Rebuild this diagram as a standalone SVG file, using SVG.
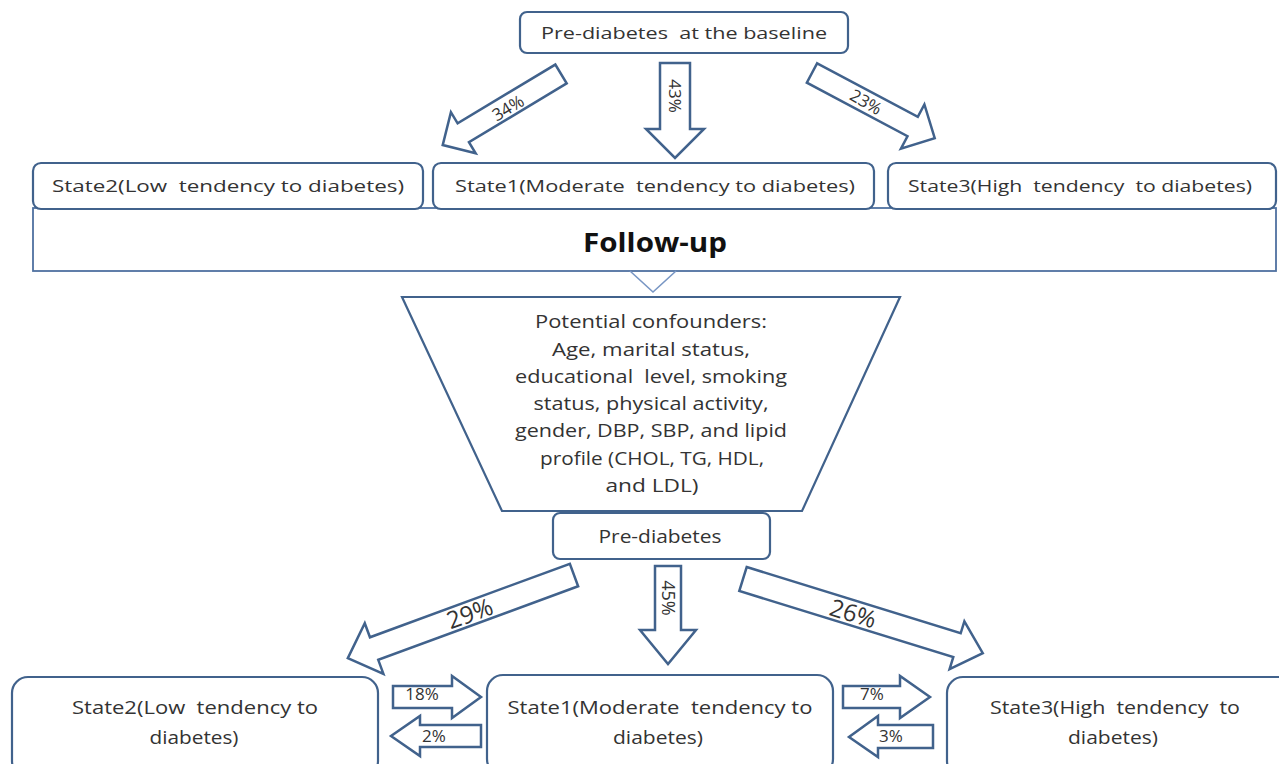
<svg xmlns="http://www.w3.org/2000/svg" width="1279" height="764" viewBox="0 0 1279 764">
<style>
.box{fill:#fff;stroke:#41628c;stroke-width:2.2}
.arr{fill:#fff;stroke:#41628c;stroke-width:2.5;stroke-linejoin:miter}
.t{font-family:"Open Sans","Liberation Sans",sans-serif;fill:#333;text-anchor:middle;font-size:17px;white-space:pre}
.big{font-size:18px}
.pct{font-size:17px}
.pl{font-size:24px}
.fu{font-family:"Open Sans","Liberation Sans",sans-serif;font-weight:bold;font-size:27px;fill:#111;text-anchor:middle}
</style>
<rect width="1279" height="764" fill="#fff"/>

<g id="top">
<rect class="box" x="520" y="12" width="328" height="41" rx="7"/>
<text class="t" x="684" y="39" textLength="286" lengthAdjust="spacingAndGlyphs">Pre-diabetes  at the baseline</text>
</g>

<g id="followup">
<rect x="33" y="208" width="1243" height="63" fill="#fff" stroke="#4f71a0" stroke-width="1.8"/>
<text class="fu" x="655" y="252" textLength="144" lengthAdjust="spacingAndGlyphs">Follow-up</text>
<polyline points="630,271 653,292 676,271" fill="none" stroke="#7896c4" stroke-width="1.6"/>
</g>

<g id="state2-top">
<rect class="box" x="33" y="163" width="390" height="46" rx="8"/>
<text class="t" x="228" y="192" textLength="352" lengthAdjust="spacingAndGlyphs">State2(Low  tendency to diabetes)</text>
</g>
<g id="state1-top">
<rect class="box" x="433" y="163" width="441" height="46" rx="8"/>
<text class="t" x="655" y="192" textLength="400" lengthAdjust="spacingAndGlyphs">State1(Moderate  tendency to diabetes)</text>
</g>
<g id="state3-top">
<rect class="box" x="888" y="163" width="388" height="46" rx="8"/>
<text class="t" x="1080" y="192" textLength="344" lengthAdjust="spacingAndGlyphs">State3(High  tendency  to diabetes)</text>
</g>

<g id="confounders">
<polygon class="box" points="402,297 900,297 802,511 502,511"/>
<text class="t big" x="651" y="328" textLength="232" lengthAdjust="spacingAndGlyphs">Potential confounders:</text>
<text class="t big" x="651" y="356" textLength="198" lengthAdjust="spacingAndGlyphs">Age, marital status,</text>
<text class="t big" x="651" y="383" textLength="272" lengthAdjust="spacingAndGlyphs">educational  level, smoking</text>
<text class="t big" x="651" y="410" textLength="235" lengthAdjust="spacingAndGlyphs">status, physical activity,</text>
<text class="t big" x="651" y="437" textLength="272" lengthAdjust="spacingAndGlyphs">gender, DBP, SBP, and lipid</text>
<text class="t big" x="652" y="465" textLength="224" lengthAdjust="spacingAndGlyphs">profile (CHOL, TG, HDL,</text>
<text class="t big" x="652" y="492" textLength="93" lengthAdjust="spacingAndGlyphs">and LDL)</text>
</g>

<g id="prediabetes">
<rect class="box" x="553" y="513" width="217" height="46" rx="7"/>
<text class="t big" x="660" y="543" textLength="123" lengthAdjust="spacingAndGlyphs">Pre-diabetes</text>
</g>

<g id="state2-bottom">
<rect class="box" x="12" y="677" width="366" height="100" rx="16"/>
<text class="t big" x="195" y="714" textLength="246" lengthAdjust="spacingAndGlyphs">State2(Low  tendency to</text>
<text class="t big" x="194" y="744" textLength="89" lengthAdjust="spacingAndGlyphs">diabetes)</text>
</g>
<g id="state1-bottom">
<rect class="box" x="487" y="675" width="346" height="100" rx="16"/>
<text class="t big" x="660" y="714" textLength="305" lengthAdjust="spacingAndGlyphs">State1(Moderate  tendency to</text>
<text class="t big" x="658" y="744" textLength="90" lengthAdjust="spacingAndGlyphs">diabetes)</text>
</g>
<g id="state3-bottom">
<rect class="box" x="947" y="677" width="350" height="100" rx="16"/>
<text class="t big" x="1115" y="714" textLength="250" lengthAdjust="spacingAndGlyphs">State3(High  tendency  to</text>
<text class="t big" x="1113" y="744" textLength="90" lengthAdjust="spacingAndGlyphs">diabetes)</text>
</g>

<g id="connectors">
<!-- top arrows -->
<g transform="translate(561,74) rotate(149)">
<path class="arr" d="M0,-11 H114 V-24 L138,0 L114,24 V11 H0 Z"/>
</g>
<text class="t" transform="translate(508,108) rotate(-31)" y="6">34%</text>

<path class="arr" d="M660,63 H690 V129 H704 L675,158 L646,129 H660 Z"/>
<text class="t" transform="translate(675,96) rotate(90)" y="6">43%</text>

<g transform="translate(812,73) rotate(28)">
<path class="arr" d="M0,-11 H114 V-25 L139,0 L114,25 V11 H0 Z"/>
</g>
<text class="t" transform="translate(866,102) rotate(30)" y="6">23%</text>

<!-- bottom arrows -->
<g transform="translate(574,575) rotate(159.8)">
<path class="arr" d="M0,-12 H213 V-27 L241,0 L213,27 V12 H0 Z"/>
</g>
<text class="t pl" transform="translate(470,614) rotate(-20)" y="8">29%</text>

<path class="arr" d="M655,566 H681 V630 H696 L668,664 L640,630 H655 Z"/>
<text class="t big" transform="translate(668,598) rotate(90)" y="6">45%</text>

<g transform="translate(743,579) rotate(17.2)">
<path class="arr" d="M0,-12.5 H224 V-25 L251,0 L224,25 V12.5 H0 Z"/>
</g>
<text class="t pl" transform="translate(853,614) rotate(17.2)" y="8">26%</text>

<!-- horizontal arrows -->
<path class="arr" d="M393,686 H452 V676 L481,697 L452,718 V708 H393 Z"/>
<text class="t pct" x="422" y="700">18%</text>
<path class="arr" d="M481,725 H420 V716 L391,736 L420,756 V747 H481 Z"/>
<text class="t pct" x="434" y="742">2%</text>

<path class="arr" d="M843,686 H900 V676 L930,697 L900,718 V708 H843 Z"/>
<text class="t pct" x="872" y="700">7%</text>
<path class="arr" d="M933,725 H878 V716 L849,737 L878,757 V748 H933 Z"/>
<text class="t pct" x="891" y="742">3%</text>
</g>
</svg>
